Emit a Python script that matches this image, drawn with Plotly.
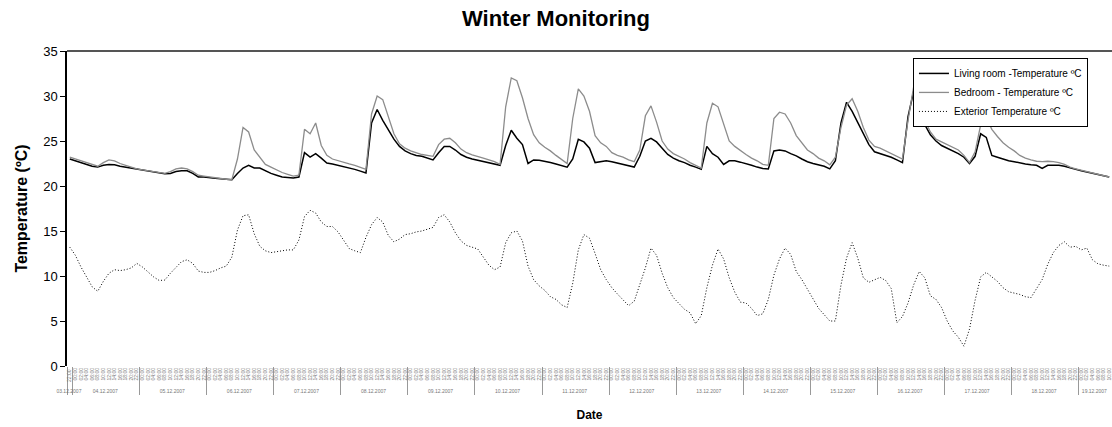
import plotly.graph_objects as go

# ---- data (2-hourly readings, 03.12.2007 22:00 -> 19.12.2007 10:00) ----
day_labels = ["03.12.2007", "04.12.2007", "05.12.2007", "06.12.2007", "07.12.2007",
              "08.12.2007", "09.12.2007", "10.12.2007", "11.12.2007", "12.12.2007",
              "13.12.2007", "14.12.2007", "15.12.2007", "16.12.2007", "17.12.2007",
              "18.12.2007", "19.12.2007"]
hour_labels = ["00:00", "02:00", "04:00", "06:00", "08:00", "10:00",
               "12:00", "14:00", "16:00", "18:00", "20:00", "22:00"]
# plotly orders 2nd-level categories by first appearance; a trailing space keeps
# the first-day "22:00" slot distinct so each later day runs 00:00 -> 22:00
first_day_hours = ["22:00 "]
last_day_hours = ["00:00", "02:00", "04:00", "06:00", "08:00", "10:00"]

living = [
    23.0, 22.8, 22.6, 22.4, 22.2, 22.1, 22.3, 22.4, 22.35, 22.2,
    22.1, 22.0, 21.85, 21.75, 21.65, 21.55, 21.45, 21.35, 21.4, 21.6,
    21.7, 21.7, 21.4, 21.0, 21.0, 20.9, 20.85, 20.8, 20.75, 20.7,
    21.4, 22.0, 22.3, 22.0, 22.0, 21.7, 21.4, 21.2, 21.0, 20.95,
    20.9, 21.0, 23.7, 23.2, 23.6, 23.1, 22.55, 22.45, 22.3, 22.2,
    22.0, 21.85, 21.65, 21.45, 27.0, 28.5, 27.3, 26.3, 25.2, 24.4,
    23.9, 23.6, 23.4, 23.3, 23.1, 22.9, 23.7, 24.4, 24.4, 24.0,
    23.5, 23.2, 23.0, 22.85, 22.7, 22.55, 22.4, 22.3, 24.5, 26.2,
    25.3, 24.6, 22.5, 22.9, 22.85, 22.75, 22.6, 22.45, 22.3, 22.1,
    23.0, 25.2, 24.9, 24.2, 22.6, 22.7, 22.8, 22.7, 22.55, 22.4,
    22.2, 22.1, 23.3, 25.0, 25.3, 24.9, 24.2, 23.5, 23.1, 22.8,
    22.6, 22.3, 22.1, 21.85, 24.4, 23.6, 23.2, 22.4, 22.8, 22.8,
    22.65, 22.5, 22.3, 22.1, 21.95, 21.9, 23.9, 24.0, 23.9, 23.6,
    23.35, 23.0, 22.7, 22.5, 22.35, 22.2, 21.9, 22.8, 27.0, 29.3,
    28.3, 27.1, 25.9, 24.6, 23.8, 23.6, 23.4, 23.2, 22.9, 22.6,
    27.7, 30.5, 28.4, 26.8, 25.7, 25.0, 24.5, 24.2, 23.9, 23.6,
    23.2, 22.5, 23.3, 25.8, 25.4, 23.4, 23.2, 23.0, 22.8, 22.7,
    22.55, 22.45, 22.35, 22.3, 21.95, 22.3, 22.3, 22.3, 22.2, 22.0,
    21.85, 21.7, 21.55, 21.45, 21.3, 21.15, 21.0,
]

bedroom = [
    23.2, 23.0, 22.8, 22.6, 22.4, 22.2, 22.6, 22.9, 22.8, 22.5,
    22.3, 22.1, 21.9, 21.8, 21.7, 21.6, 21.5, 21.4, 21.6, 21.9,
    22.0, 21.9, 21.6, 21.2, 21.1, 21.0, 20.9, 20.8, 20.75, 20.7,
    23.0, 26.5, 26.0, 24.0, 23.2, 22.4, 22.1, 21.8, 21.5, 21.3,
    21.1, 21.2, 26.3, 25.8, 27.0, 24.5, 23.4, 23.0, 22.8, 22.6,
    22.45, 22.3, 22.1, 21.85, 28.0, 30.0, 29.6, 27.8, 25.8, 24.7,
    24.2, 23.9, 23.7, 23.5, 23.4, 23.3, 24.6, 25.2, 25.3, 24.8,
    24.1, 23.7, 23.45, 23.3, 23.1, 22.9, 22.7, 22.4, 28.8, 32.0,
    31.7, 29.8, 27.5, 25.7, 24.8, 24.3, 23.9, 23.4, 22.9, 22.5,
    27.5, 30.8, 30.0, 28.3, 25.6, 24.8, 24.4, 23.7, 23.4, 23.2,
    22.9, 22.7, 24.0, 27.8, 28.9, 27.1, 25.0, 24.1, 23.6, 23.3,
    23.0, 22.6, 22.3, 22.0, 27.0, 29.2, 28.8, 26.8, 25.0, 24.4,
    23.9, 23.5, 23.1, 22.8, 22.4, 22.3, 27.5, 28.2, 28.0, 27.0,
    25.6, 24.8, 24.0, 23.6, 23.1, 22.8, 22.35, 23.2, 26.5, 29.0,
    29.7, 28.3, 26.5, 25.1, 24.4, 24.2, 23.9, 23.6, 23.3, 23.0,
    27.3, 31.0, 29.2, 27.3, 26.0, 25.2, 24.9, 24.6, 24.3, 24.0,
    23.4, 22.6, 23.8, 26.8, 27.6, 26.3, 25.5, 24.8, 24.3, 23.9,
    23.4, 23.1, 22.9, 22.75, 22.7, 22.75, 22.7, 22.6, 22.4, 22.1,
    21.9, 21.75, 21.6, 21.45, 21.3, 21.15, 21.0,
]

exterior = [
    13.2, 12.3, 11.0, 9.85, 8.8, 8.3, 9.4, 10.3, 10.7, 10.6,
    10.7, 10.9, 11.4, 11.0, 10.4, 9.9, 9.5, 9.55, 10.3, 11.0,
    11.6, 11.8, 11.4, 10.55, 10.4, 10.4, 10.6, 10.9, 11.1, 12.1,
    15.1, 16.7, 16.8, 14.7, 13.3, 12.8, 12.6, 12.7, 12.8, 12.9,
    12.9, 14.0, 16.6, 17.3, 17.0, 16.0, 15.5, 15.5, 14.9, 13.9,
    13.05, 12.8, 12.6, 14.3, 15.7, 16.5, 16.0, 14.5, 13.8, 14.1,
    14.6, 14.7, 14.9, 15.0, 15.2, 15.4, 16.5, 16.8, 16.0, 14.8,
    13.9, 13.4, 13.2, 13.0, 12.1, 11.2, 10.7, 11.0, 13.7, 14.8,
    15.0, 13.9, 11.1, 9.6, 8.9, 8.4, 7.7, 7.4, 6.8, 6.5,
    9.2, 12.9, 14.6, 14.2, 12.5, 10.7, 9.6, 8.7, 8.0, 7.3,
    6.7, 7.2, 9.1, 10.9, 13.1, 12.3, 10.3, 8.7, 7.6, 7.0,
    6.3, 5.9, 4.7, 5.6, 8.7, 11.2, 13.0, 11.9, 9.8, 8.2,
    7.1, 7.0, 6.4, 5.6, 5.8, 7.4, 10.1, 11.9, 13.1, 12.4,
    10.5, 9.6, 8.5, 7.5, 6.4, 5.7, 5.0, 5.0, 9.0, 12.0,
    13.7, 12.0, 9.8, 9.3, 9.6, 9.85, 9.5, 8.6, 4.8, 5.5,
    7.0, 9.0, 10.5, 9.8, 7.8, 7.4, 6.5, 5.0, 3.9, 3.2,
    2.2, 4.1, 7.3, 9.9, 10.4, 9.9, 9.4, 8.7, 8.25, 8.1,
    7.95, 7.7, 7.6, 8.6, 9.6, 11.3, 12.6, 13.4, 13.8, 13.2,
    13.3, 12.9, 13.1, 11.8, 11.35, 11.2, 11.1,
]

series_names = ["Living room -Temperature ºC", "Bedroom - Temperature ºC",
                "Exterior Temperature ºC"]

# ---- two-level category axis (date / time) ----
x_day, x_hour = [], []
for d in day_labels:
    if d == day_labels[0]:
        hrs = first_day_hours
    elif d == day_labels[-1]:
        hrs = last_day_hours
    else:
        hrs = hour_labels
    for h in hrs:
        x_day.append(d)
        x_hour.append(h)
x = [x_day, x_hour]

FONT = "Arial, 'Liberation Sans', sans-serif"

fig = go.Figure()
fig.add_trace(go.Scatter(x=x, y=living, name=series_names[0], mode="lines",
                         line=dict(color="#000000", width=1.5)))
fig.add_trace(go.Scatter(x=x, y=bedroom, name=series_names[1], mode="lines",
                         line=dict(color="#8c8c8c", width=1.3)))
fig.add_trace(go.Scatter(x=x, y=exterior, name=series_names[2], mode="lines",
                         line=dict(color="#000000", width=1, dash="1px,2px")))

fig.update_layout(
    width=1112, height=427,
    margin=dict(l=67, r=0, t=51, b=61),
    paper_bgcolor="white", plot_bgcolor="white",
    font=dict(family=FONT, color="black"),
    title=dict(text="<b>Winter Monitoring</b>", x=0.5, xanchor="center",
               y=1 - 18 / 427, yanchor="middle", yref="container",
               font=dict(size=22, family=FONT, color="black")),
    showlegend=True,
    legend=dict(x=0.977, xanchor="right", y=0.978, yanchor="top",
                bgcolor="white", bordercolor="black", borderwidth=1,
                font=dict(size=10, family=FONT, color="black"),
                itemwidth=30, tracegroupgap=0),
    xaxis=dict(
        type="multicategory",
        range=[-0.5, 186.5],
        tickmode="linear", tick0=0, dtick=1,
        tickangle=-90,
        tickfont=dict(size=5, color="#777777", family=FONT),
        showdividers=True, dividercolor="#999999", dividerwidth=1,
        showgrid=False, zeroline=False,
        showline=False,
        title=dict(text="<b>Date</b>", font=dict(size=12, family=FONT, color="black"),
                   standoff=17),
    ),
    yaxis=dict(
        range=[0, 35], dtick=5, tick0=0,
        ticks="outside", ticklen=5, tickwidth=1, tickcolor="black",
        showline=True, linecolor="black", linewidth=1.5,
        showgrid=False, zeroline=False,
        tickfont=dict(size=13, family=FONT, color="black"),
        title=dict(text="<b>Temperature (ºC)</b>",
                   font=dict(size=16, family=FONT, color="black"), standoff=12),
    ),
    shapes=[dict(type="line", xref="paper", yref="paper", x0=0, x1=1, y0=1, y1=1,
                 line=dict(color="#555555", width=2))],
)

fig.write_html("out.html")
